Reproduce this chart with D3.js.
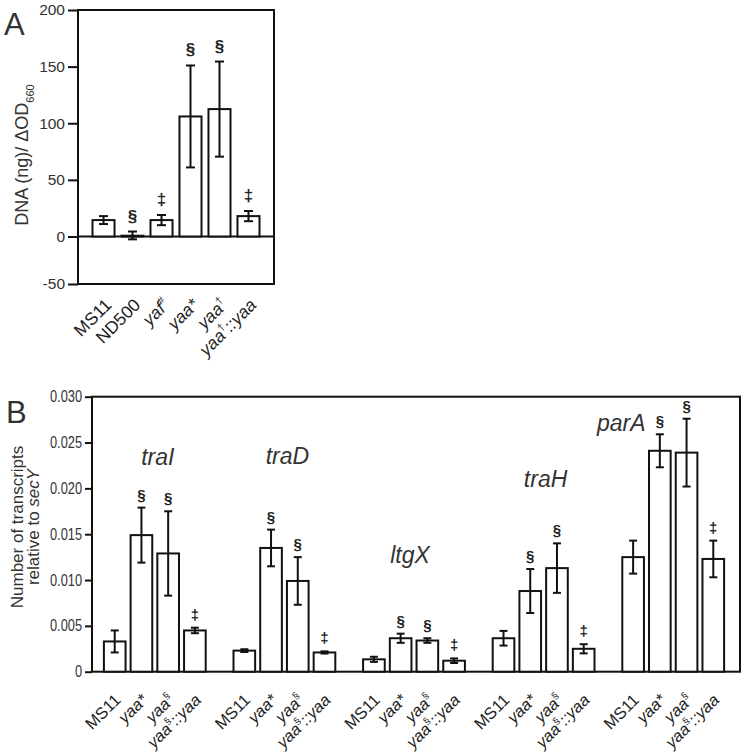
<!DOCTYPE html>
<html><head><meta charset="utf-8">
<script src="https://cdn.jsdelivr.net/npm/d3@7"></script>
<style>
body{margin:0;background:#fff}
text{font-family:"Liberation Sans",Arial,Helvetica,sans-serif}
</style>
</head><body>
<svg id="c" width="746" height="754"></svg>
<script>
// ---------- Panel A data ----------
const strainsA = ["MS11", "ND500", "yaf", "yaa", "yaa", "yaa"];
const supA     = ["", "", "#", "", "†", "†"];
const suffixA  = ["", "", "", "*", "", "::yaa"];
const italicA  = [false, false, true, true, true, true];
const valuesA  = [14.5, 0.7, 14.5, 106, 112.5, 18];
const errorsA  = [3.5, 3.7, 4.5, 45, 42, 4.5];
const sigA     = ["", "§", "‡", "§", "§", "‡"];
const yTicksA  = [-50, 0, 50, 100, 150, 200];

// ---------- Panel B data ----------
const genes    = ["traI", "traD", "ltgX", "traH", "parA"];
const strainsB = ["MS11", "yaa", "yaa", "yaa"];
const supB     = ["", "", "§", "§"];
const suffixB  = ["", "*", "", "::yaa"];
const italicB  = [false, true, true, true];
const valuesB  = [
  [0.0033, 0.0149, 0.0129, 0.0045],
  [0.0023, 0.0135, 0.0099, 0.0021],
  [0.00135, 0.00365, 0.0034, 0.0012],
  [0.00365, 0.0088, 0.0113, 0.0025],
  [0.0125, 0.0241, 0.0239, 0.0123]
];
const errorsB  = [
  [0.0012, 0.0030, 0.0046, 0.0003],
  [0.00015, 0.0020, 0.0026, 0.00012],
  [0.00028, 0.0005, 0.00025, 0.00025],
  [0.0008, 0.0024, 0.0027, 0.0005],
  [0.0018, 0.0018, 0.0037, 0.0020]
];
const sigB     = [
  ["", "§", "§", "‡"],
  ["", "§", "§", "‡"],
  ["", "§", "§", "‡"],
  ["", "§", "§", "‡"],
  ["", "§", "§", "‡"]
];
const yTicksB  = [0, 0.005, 0.010, 0.015, 0.020, 0.025, 0.030];

// ---------- drawing ----------
const svg = d3.select("#c");
const INK = "#111", TXT = "#333";

function richLabel(sel, base, sup, suffix, italic, fs) {
  sel.append("tspan").attr("font-style", italic ? "italic" : "normal").text(base);
  if (sup) {
    sel.append("tspan").attr("font-size", fs * 0.6).attr("dy", -fs * 0.42)
      .attr("font-style", "normal").text(sup);
  }
  if (suffix) {
    sel.append("tspan").attr("dy", sup ? fs * 0.42 : 0)
      .attr("font-style", italic ? "italic" : "normal").text(suffix);
  }
}

// ===== Panel A =====
const xA = d3.scaleBand().domain(d3.range(strainsA.length)).range([78, 274])
  .paddingInner(0.24).paddingOuter(0.5);
const yA = d3.scaleLinear().domain([-50, 0, 200]).range([284, 236.5, 10]);
const gA = svg.append("g");

gA.append("text").attr("x", 4).attr("y", 35).attr("font-size", 31).attr("fill", TXT).text("A");

const axA = gA.append("g").attr("transform", "translate(78,0)")
  .call(d3.axisLeft(yA).tickValues(yTicksA).tickSize(10).tickPadding(3)
    .tickFormat(d => String(d)));
axA.select(".domain").remove();
axA.selectAll(".tick line").attr("stroke", INK).attr("stroke-width", 2);
axA.selectAll(".tick text").attr("font-size", 15.5).attr("fill", TXT)
  .attr("font-family", "'Liberation Sans',Arial,sans-serif");

gA.append("rect").attr("x", 78).attr("y", yA(200)).attr("width", 274 - 78)
  .attr("height", yA(-50) - yA(200)).attr("fill", "none").attr("stroke", INK).attr("stroke-width", 2);
gA.append("line").attr("x1", 78).attr("x2", 274).attr("y1", yA(0)).attr("y2", yA(0))
  .attr("stroke", INK).attr("stroke-width", 2);

const barsA = gA.selectAll("g.bar").data(valuesA).join("g").attr("class", "bar");
barsA.append("rect").attr("x", (d, i) => xA(i)).attr("width", xA.bandwidth())
  .attr("y", d => yA(Math.max(d, 0))).attr("height", d => Math.abs(yA(0) - yA(d)))
  .attr("fill", "#fff").attr("stroke", INK).attr("stroke-width", 2);
barsA.each(function (d, i) {
  const g = d3.select(this), cx = xA(i) + xA.bandwidth() / 2, e = errorsA[i];
  g.append("line").attr("x1", cx).attr("x2", cx).attr("y1", yA(d + e)).attr("y2", yA(d - e))
    .attr("stroke", INK).attr("stroke-width", 2);
  [d + e, d - e].forEach(v => g.append("line").attr("x1", cx - 4.5).attr("x2", cx + 4.5)
    .attr("y1", yA(v)).attr("y2", yA(v)).attr("stroke", INK).attr("stroke-width", 2));
  if (sigA[i]) g.append("text").attr("x", cx).attr("y", yA(d + e) - 10).attr("text-anchor", "middle")
    .attr("font-size", 17).attr("font-weight", "bold").attr("fill", "#222").text(sigA[i]);
  const t = g.append("text").attr("text-anchor", "end").attr("font-size", 17.5).attr("fill", "#222")
    .attr("transform", `translate(${cx + 9},${306}) rotate(-45)`);
  richLabel(t, strainsA[i], supA[i], suffixA[i], italicA[i], 17.5);
});

const tA = gA.append("text").attr("transform", "translate(28,155) rotate(-90)")
  .attr("text-anchor", "middle").attr("font-size", 18).attr("fill", TXT);
tA.append("tspan").text("DNA (ng)/ ΔOD");
tA.append("tspan").attr("font-size", 11).attr("dy", 6).text("660");

// ===== Panel B =====
const x0 = d3.scaleBand().domain(genes).range([90, 738]);
const x1 = d3.scaleBand().domain(d3.range(strainsB.length)).range([0, x0.bandwidth()])
  .paddingInner(0.19).paddingOuter(0.52);
const yB = d3.scaleLinear().domain([0, 0.03]).range([671.7, 396.7]);
const gB = svg.append("g");

gB.append("text").attr("x", 6).attr("y", 423).attr("font-size", 31).attr("fill", TXT).text("B");

const axB = gB.append("g").attr("transform", "translate(92,0)")
  .call(d3.axisLeft(yB).tickValues(yTicksB).tickSize(7).tickPadding(3)
    .tickFormat(d => d === 0 ? "0" : d3.format(".3f")(d)));
axB.select(".domain").remove();
axB.selectAll(".tick line").attr("stroke", INK).attr("stroke-width", 2);
axB.selectAll(".tick text").attr("font-size", 16).attr("fill", TXT)
  .each(function () {
    const w = this.getComputedTextLength();
    d3.select(this).attr("textLength", w * 0.8).attr("lengthAdjust", "spacingAndGlyphs");
  });

gB.append("rect").attr("x", 92).attr("y", yB(0.03)).attr("width", 740 - 92)
  .attr("height", yB(0) - yB(0.03)).attr("fill", "none").attr("stroke", INK).attr("stroke-width", 2);

// gene label placement (layout: value-height and horizontal shift)
const geneLabelAt = { traI: [0.02257, 3], traD: [0.02267, 3], ltgX: [0.01187, -4], traH: [0.02016, 2], parA: [0.02628, -52] };

genes.forEach((gene, gi) => {
  const gx = x0(gene);
  const gg = gB.append("g").attr("transform", `translate(${gx},0)`);
  valuesB[gi].forEach((v, si) => {
    const bx = x1(si), cx = bx + x1.bandwidth() / 2, e = errorsB[gi][si];
    gg.append("rect").attr("x", bx).attr("width", x1.bandwidth()).attr("y", yB(v))
      .attr("height", yB(0) - yB(v)).attr("fill", "#fff").attr("stroke", INK).attr("stroke-width", 2);
    gg.append("line").attr("x1", cx).attr("x2", cx).attr("y1", yB(v + e)).attr("y2", yB(v - e))
      .attr("stroke", INK).attr("stroke-width", 2);
    [v + e, v - e].forEach(w => gg.append("line").attr("x1", cx - 4).attr("x2", cx + 4)
      .attr("y1", yB(w)).attr("y2", yB(w)).attr("stroke", INK).attr("stroke-width", 2));
    if (sigB[gi][si]) gg.append("text").attr("x", cx).attr("y", yB(v + e) - 8)
      .attr("text-anchor", "middle").attr("font-size", 15).attr("font-weight", "bold")
      .attr("fill", "#222").text(sigB[gi][si]);
    const t = gg.append("text").attr("text-anchor", "end").attr("font-size", 16.5).attr("fill", "#222")
      .attr("transform", `translate(${cx + 7},${701}) rotate(-45)`);
    richLabel(t, strainsB[si], supB[si], suffixB[si], italicB[si], 16.5);
  });
  const [ly, dx] = geneLabelAt[gene];
  gg.append("text").attr("x", x0.bandwidth() / 2 + dx).attr("y", yB(ly)).attr("text-anchor", "middle")
    .attr("font-size", 23).attr("font-style", "italic").attr("fill", TXT).text(gene);
});

const tB = gB.append("text").attr("transform", "translate(0,527) rotate(-90)")
  .attr("text-anchor", "middle").attr("font-size", 17).attr("fill", TXT);
tB.append("tspan").attr("x", 0).attr("y", 23).text("Number of transcripts");
const l2 = tB.append("tspan").attr("x", 0).attr("y", 39);
l2.append("tspan").text("relative to ");
l2.append("tspan").attr("font-style", "italic").text("secY");
</script>
</body></html>
